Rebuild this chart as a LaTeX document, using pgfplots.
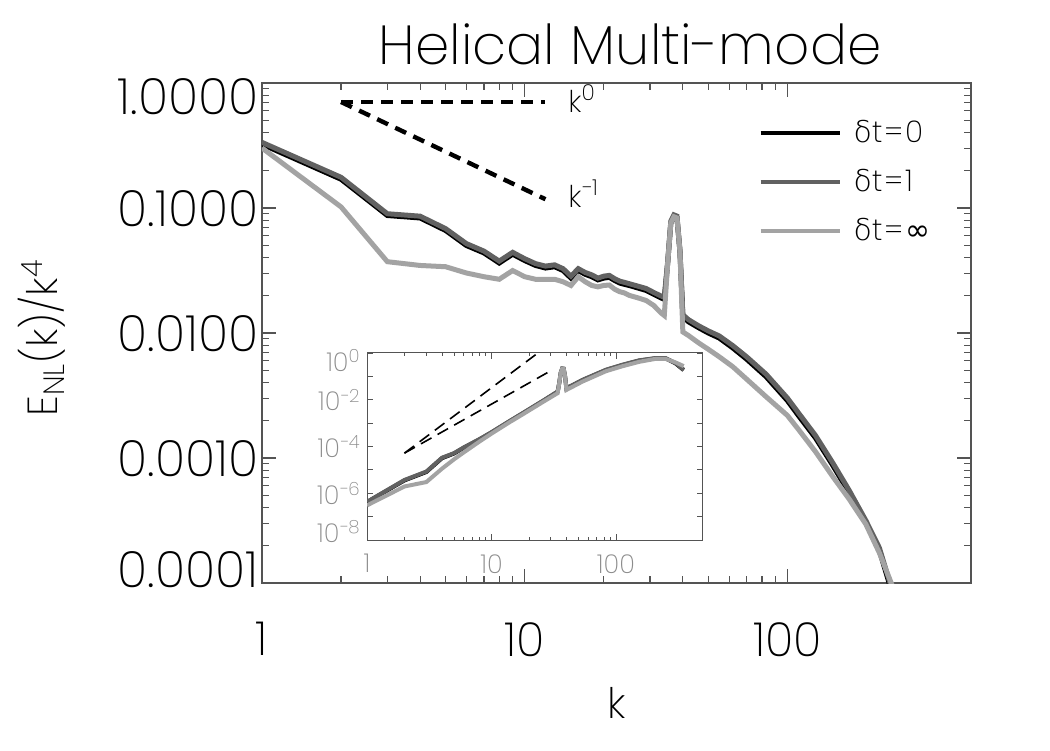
\documentclass[border=0pt]{standalone}
\usepackage{pgfplots}
\pgfplotsset{compat=1.18}
\usepackage{fontspec}
\setmainfont{Poppins ExtraLight}
\newfontfamily\symfont{DejaVu Sans ExtraLight}
\newfontfamily\infont{DejaVu Sans}
\definecolor{dg}{gray}{0.38}
\definecolor{lg}{gray}{0.64}
\definecolor{axc}{gray}{0.33}
\definecolor{itx}{gray}{0.55}
\begin{document}
\begin{tikzpicture}
\useasboundingbox (-131pt,-83.5pt) rectangle (394pt,291.5pt);
\begin{axis}[
  at={(0pt,0pt)}, anchor=south west,
  scale only axis, width=354.5pt, height=250pt,
  xmode=log, ymode=log,
  xmin=1, xmax=500, ymin=1e-4, ymax=1,
  xtick={1,10,100}, xticklabels={1,10,100},
  ytick={1e-4,1e-3,1e-2,1e-1,1},
  yticklabels={{\smash{\raisebox{-2.25pt}{0.0001}}},{\smash{\raisebox{-9.25pt}{0.0010}}},{\smash{\raisebox{-9.25pt}{0.0100}}},{\smash{\raisebox{-9.25pt}{0.1000}}},{\smash{\raisebox{-15.75pt}{1.0000}}}},
  axis line style={axc, line width=0.6pt},
  tick style={axc, line width=0.6pt},
  major tick length=7pt, minor tick length=3.5pt,
  xticklabel style={font=\fontsize{23.5}{23.5}\selectfont, inner sep=0pt, yshift=-19.5pt},
  yticklabel style={font=\fontsize{25}{25}\selectfont, inner sep=0pt, xshift=-1.5pt},
  xlabel={k},
  ylabel={E\textsubscript{NL}(k)/k\textsuperscript{4}},
  label style={font=\fontsize{21}{21}\selectfont},
  xlabel style={at={(axis description cs:0.5,-0.27)}, anchor=base},
  ylabel style={at={(axis description cs:-0.31,0.49)}, anchor=center},
  legend style={draw=none, fill=none, at={(axis description cs:0.70,0.935)}, anchor=north west,
    font=\fontsize{15}{15}\selectfont, row sep=8pt, column sep=4pt, inner sep=0pt},
  legend cell align=left,
  legend image code/.code={\draw[#1, line width=2pt] (0pt,0pt) -- (39.5pt,0pt);},
]
\addplot[black, line width=2.5pt] coordinates {(1,0.3236)(2,0.1698)(3,0.0871)(4,0.0832)(5,0.0661)(6,0.0501)(7,0.0437)(8,0.0363)(9,0.0427)(10,0.0380)(11,0.0347)(12,0.0331)(13,0.0339)(14,0.0316)(15,0.0275)(16,0.0316)(17,0.0295)(18,0.0282)(19,0.0266)(20,0.0275)(21,0.0279)(22,0.0263)(23,0.0251)(24,0.0245)(25,0.0240)(27,0.0229)(29,0.0219)(31,0.0204)(33,0.0191)(34,0.0186)(35,0.0355)(36,0.0759)(37,0.0851)(38,0.0832)(39,0.0447)(40,0.0135)(42,0.0123)(46,0.0110)(50,0.0100)(55,0.00912)(62,0.00759)(70,0.00617)(83,0.00447)(100,0.00288)(111,0.00214)(128,0.001445)(149,0.000871)(172,0.000525)(199,0.000302)(224,0.000182)(248,0.000089)};
\addlegendentry{{\symfont δ}t\kern1pt=\kern1pt0}
\addplot[dg, line width=2.5pt] coordinates {(1,0.335)(2,0.176)(3,0.090)(4,0.086)(5,0.0684)(6,0.0519)(7,0.0452)(8,0.0376)(9,0.0442)(10,0.0393)(11,0.0359)(12,0.0343)(13,0.0351)(14,0.0327)(15,0.0285)(16,0.0327)(17,0.0305)(18,0.0292)(19,0.0275)(20,0.0285)(21,0.0289)(22,0.0272)(23,0.0260)(24,0.0254)(25,0.0248)(27,0.0237)(29,0.0227)(31,0.0211)(33,0.0198)(34,0.0193)(35,0.0367)(36,0.0786)(37,0.0881)(38,0.0861)(39,0.0463)(40,0.0140)(42,0.0128)(46,0.0114)(50,0.0104)(55,0.00948)(62,0.00792)(70,0.00645)(83,0.00468)(100,0.00302)(111,0.00225)(128,0.001513)(149,0.000912)(172,0.000550)(199,0.000316)(224,0.000191)(250,0.000089)};
\addlegendentry{{\symfont δ}t\kern1pt=\kern1pt1}
\addplot[lg, line width=2.5pt] coordinates {(1,0.302)(2,0.102)(3,0.0372)(4,0.0347)(5,0.0339)(6,0.0302)(7,0.0282)(8,0.0269)(9,0.0316)(10,0.0282)(11,0.0269)(12,0.0269)(13,0.0269)(14,0.0257)(15,0.0240)(16,0.0282)(17,0.0257)(18,0.0240)(19,0.0234)(20,0.0240)(21,0.0242)(22,0.0224)(23,0.0214)(24,0.0209)(25,0.0200)(27,0.0191)(29,0.0182)(31,0.0166)(33,0.0145)(34,0.0138)(35,0.0355)(36,0.0759)(37,0.0851)(38,0.0832)(39,0.0447)(40,0.0102)(42,0.00955)(46,0.00832)(50,0.00741)(55,0.00646)(62,0.00537)(70,0.00427)(83,0.00309)(100,0.00219)(111,0.00166)(128,0.001122)(149,0.000708)(172,0.000468)(199,0.000295)(224,0.000174)(254,0.000089)};
\addlegendentry{{\symfont δ}t\kern1pt=\kern1pt{\infont ∞}}
\addplot[black, line width=2.2pt, dash pattern=on 6pt off 4pt, forget plot] coordinates {(2,0.705)(12,0.705)};
\addplot[black, line width=2.2pt, dash pattern=on 6pt off 4pt, forget plot] coordinates {(2,0.705)(12,0.1175)};
\node[anchor=base west, font=\fontsize{15}{15}\selectfont] at (axis cs:13.8,0.586) {k\raisebox{6pt}{\fontsize{11}{11}\selectfont 0}};
\node[anchor=base west, font=\fontsize{15}{15}\selectfont] at (axis cs:13.8,0.1) {k\raisebox{6pt}{\fontsize{11}{11}\selectfont −1}};
\end{axis}
\node[anchor=base, font=\fontsize{27.5}{27.5}\selectfont] at (184pt,259pt) {Helical Multi-mode};
\begin{axis}[
  at={(52.5pt,21.5pt)}, anchor=south west,
  scale only axis, width=168pt, height=93.5pt,
  xmode=log, ymode=log,
  xmin=1, xmax=500, ymin=1e-8, ymax=1,
  xtick={1,10,100}, xticklabels={1,10,100},
  ytick={1e-8,1e-7,1e-6,1e-5,1e-4,1e-3,1e-2,1e-1,1},
  yticklabels={{\smash{\raisebox{-1pt}{10\textsuperscript{−8}}}},{},{\smash{\raisebox{-5.5pt}{10\textsuperscript{−6}}}},{},{\smash{\raisebox{-5.5pt}{10\textsuperscript{−4}}}},{},{\smash{\raisebox{-5.5pt}{10\textsuperscript{−2}}}},{},{\smash{\raisebox{-9pt}{10\textsuperscript{0}}}}},
  yminorticks=false,
  axis line style={axc, line width=0.5pt},
  tick style={axc, line width=0.4pt},
  major tick length=3pt, minor tick length=1.5pt,
  tick label style={font=\fontsize{13}{13}\selectfont, text=itx},
  xticklabel style={inner sep=0pt, yshift=-7pt},
  yticklabel style={inner sep=0pt, xshift=-3pt},
]
\addplot[black, line width=2pt] coordinates {(1,4.17e-7)(2,3.55e-6)(3,8.13e-6)(4,3.16e-5)(5,5.01e-5)(6,8.91e-5)(8,2.00e-4)(10,3.98e-4)(14,1.20e-3)(18,2.69e-3)(26,8.91e-3)(34,0.0219)(35,0.0501)(36,0.141)(37,0.214)(38,0.209)(39,0.1)(40,0.0302)(54,0.0692)(83,0.186)(112,0.302)(153,0.468)(208,0.589)(250,0.589)(300,0.363)(350,0.186)};
\addplot[dg, line width=2pt] coordinates {(1,4.3e-7)(2,3.7e-6)(3,8.5e-6)(4,3.3e-5)(5,5.2e-5)(6,9.2e-5)(8,2.07e-4)(10,4.1e-4)(14,1.24e-3)(18,2.78e-3)(26,9.2e-3)(34,0.0226)(35,0.0518)(36,0.146)(37,0.221)(38,0.216)(39,0.103)(40,0.0312)(54,0.0715)(83,0.192)(112,0.312)(153,0.484)(208,0.609)(250,0.609)(300,0.375)(350,0.192)};
\addplot[lg, line width=2pt] coordinates {(1,3.02e-7)(2,1.95e-6)(3,3.02e-6)(4,1.12e-5)(5,2.82e-5)(6,5.62e-5)(8,1.62e-4)(10,3.55e-4)(14,1.10e-3)(18,2.45e-3)(26,8.13e-3)(34,0.0191)(35,0.0501)(36,0.141)(37,0.214)(38,0.209)(39,0.1)(40,0.0263)(54,0.0603)(83,0.166)(112,0.269)(153,0.417)(208,0.562)(250,0.562)(300,0.398)(350,0.275)};
\addplot[black, line width=0.8pt, dash pattern=on 6pt off 3.5pt] coordinates {(2,5.2e-5)(23.4,0.97)};
\addplot[black, line width=0.8pt, dash pattern=on 6pt off 3.5pt] coordinates {(2,5.2e-5)(29.1,0.160)};
\end{axis}
\end{tikzpicture}
\end{document}
